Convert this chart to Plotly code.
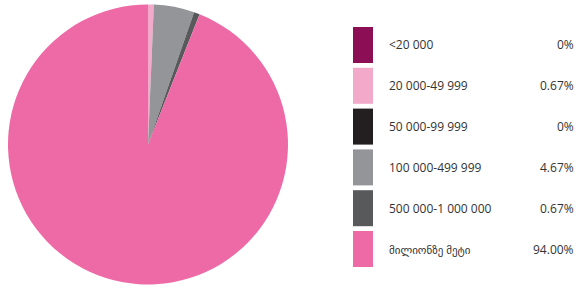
import plotly.graph_objects as go

W, H = 577, 289

categories = ["<20 000", "20 000-49 999", "50 000-99 999", "100 000-499 999",
              "500 000-1 000 000", "მილიონზე მეტი"]
values = [0, 0.67, 0, 4.67, 0.67, 94.00]
pct_labels = ["0%", "0.67%", "0%", "4.67%", "0.67%", "94.00%"]
colors = ["#8C0F55", "#F3A9C9", "#231F20", "#939598", "#58595B", "#EE6AA7"]

fig = go.Figure()
fig.add_trace(go.Pie(
    labels=categories, values=values, sort=False, direction="clockwise",
    rotation=0, marker=dict(colors=colors, line=dict(width=0)),
    textinfo="none", hoverinfo="label+percent", showlegend=False,
    domain=dict(x=[8 / W, 288 / W], y=[0, 1]),
))

shapes, annots = [], []
pitch = 40.8
for i, (cat, pct, col) in enumerate(zip(categories, pct_labels, colors)):
    top = 27 + pitch * i
    bot = top + 36
    cy = (top + bot) / 2
    shapes.append(dict(type="rect", xref="paper", yref="paper",
                       x0=353 / W, x1=373 / W, y0=1 - bot / H, y1=1 - top / H,
                       fillcolor=col, line=dict(width=0)))
    annots.append(dict(xref="paper", yref="paper", x=387 / W, y=1 - cy / H,
                       text=cat, showarrow=False, xanchor="left", yanchor="middle",
                       font=dict(size=12 if i < 5 else 11, color="#333333",
                                 family="Open Sans, DejaVu Sans")))
    annots.append(dict(xref="paper", yref="paper", x=576 / W, y=1 - cy / H,
                       text=pct, showarrow=False, xanchor="right", yanchor="middle",
                       font=dict(size=12, color="#333333", family="Open Sans")))

fig.update_layout(width=W, height=H, margin=dict(l=0, r=0, t=0, b=0),
                  paper_bgcolor="white", plot_bgcolor="white",
                  shapes=shapes, annotations=annots)
fig.write_html("out.html", config={"displayModeBar": False},
               post_script="document.body.style.margin='0';")
